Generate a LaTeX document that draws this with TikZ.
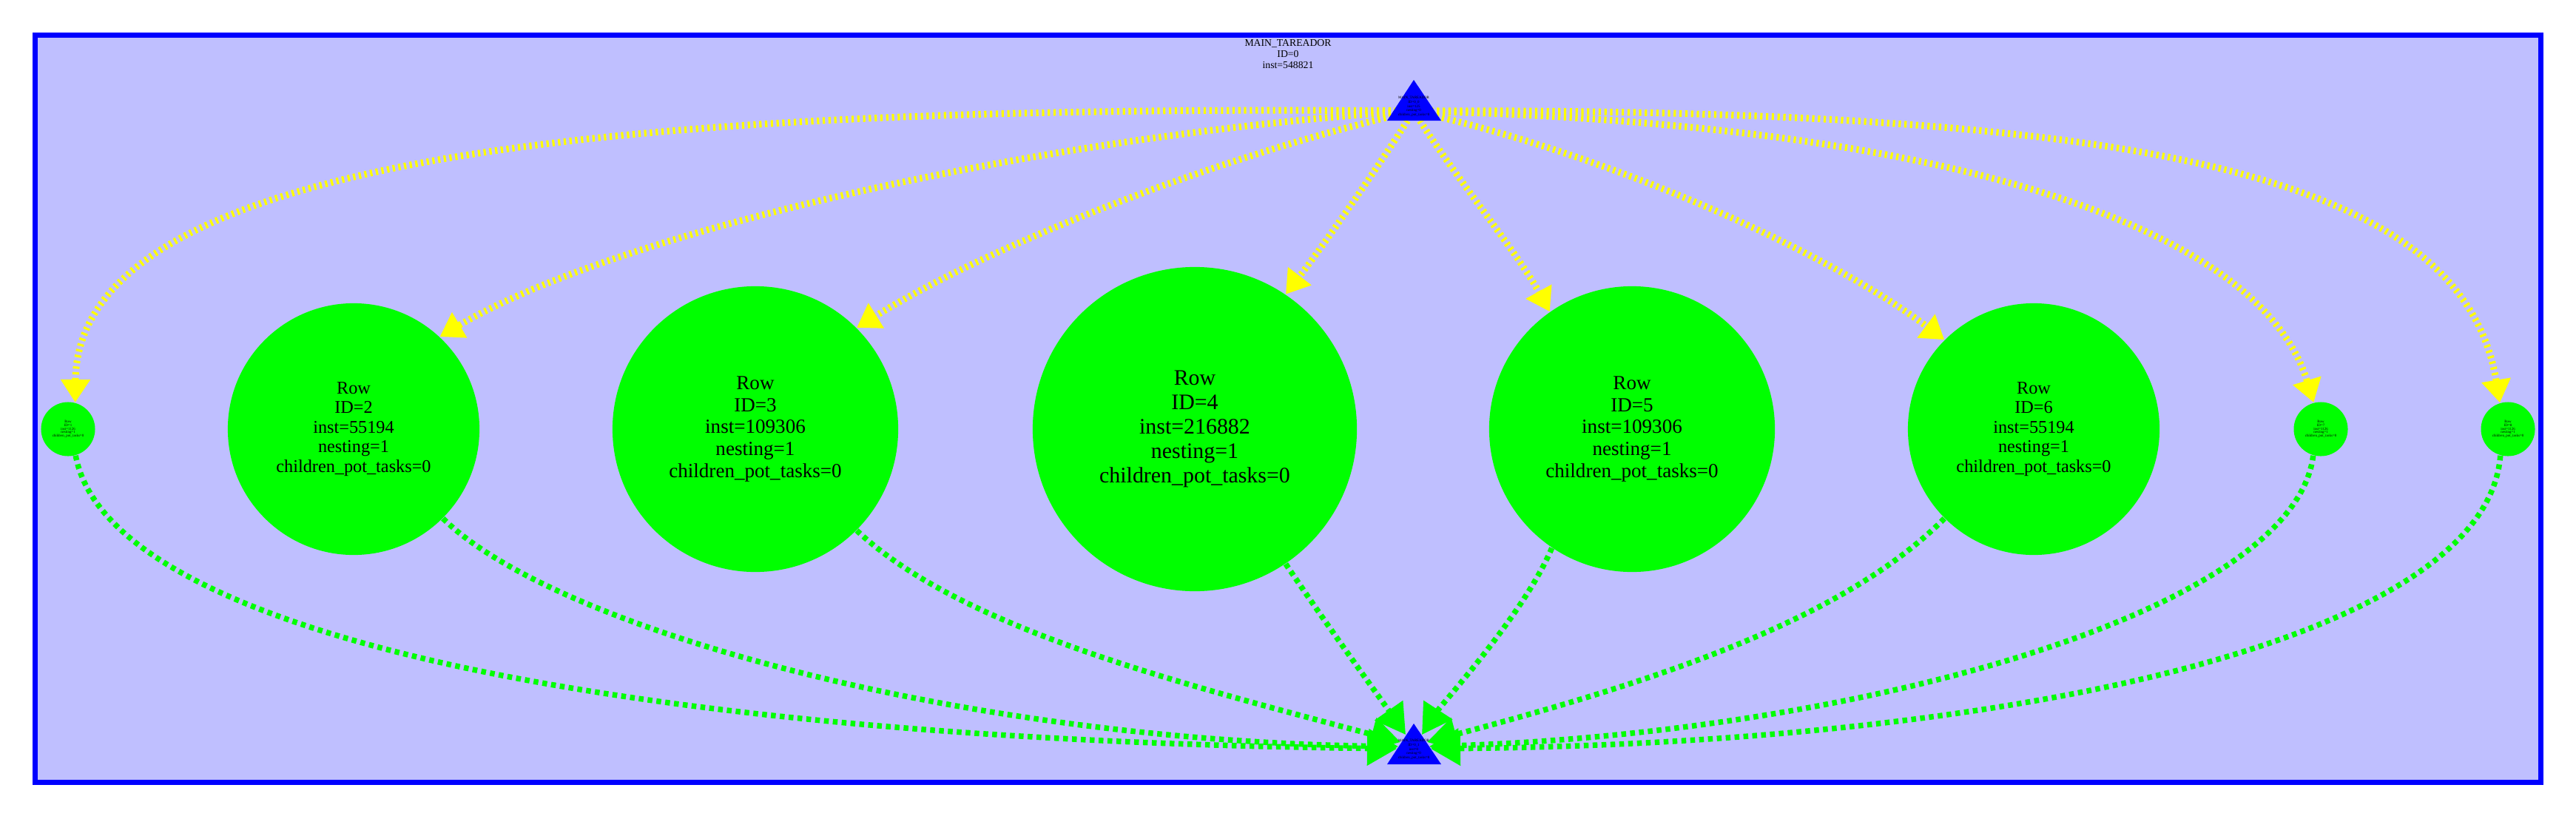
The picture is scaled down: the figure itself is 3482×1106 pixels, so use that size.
\documentclass[tikz,border=0pt]{standalone}
\usepackage{fontspec}
\setmainfont{Liberation Serif}
\usepackage{tikz}
\usetikzlibrary{arrows.meta}
\definecolor{clusterfill}{RGB}{191,191,255}
\definecolor{taskblue}{RGB}{0,0,255}
\definecolor{taskgreen}{RGB}{0,255,0}
\definecolor{depyellow}{RGB}{255,255,0}

\begin{document}
\begin{tikzpicture}[x=0.01cm,y=-0.01cm,
	rowtask/.style={circle,fill=taskgreen,inner sep=0pt,align=center},
	tinyrow/.style={rowtask,minimum size=0.73cm,font=\fontsize{1.4}{1.35}\selectfont},
	smallrow/.style={rowtask,minimum size=3.4cm,font=\fontsize{6.9}{7.5}\selectfont},
	midrow/.style={rowtask,minimum size=3.86cm,font=\fontsize{7.7}{8.4}\selectfont},
	bigrow/.style={rowtask,minimum size=4.38cm,font=\fontsize{8.5}{9.4}\selectfont},
	tritext/.style={inner sep=0pt,align=center,font=\fontsize{1.4}{1.65}\selectfont},
	yedge/.style={depyellow,line width=0.09cm,dash pattern=on 0.032cm off 0.046cm,
		-{Triangle[length=0.31cm,width=0.38cm]}},
	gedge/.style={taskgreen,line width=0.075cm,dash pattern=on 0.065cm off 0.055cm,
		-{Triangle[length=0.4cm,width=0.45cm]}}
	]
	\useasboundingbox (0,0) rectangle (3482,1106);
	%%%%%%%%%%%%%%% cluster
	\draw[taskblue,fill=clusterfill,line width=0.07cm] (47.5,47.5) rectangle (3434.5,1057.5);
	\node[align=center,inner sep=0pt,font=\fontsize{3.9}{4.3}\selectfont] (main) at (1741,73)
		{MAIN\_TAREADOR\\ID=0\\inst=548821};
	%%%%%%%%%%%%%%% tasks
	\node[tinyrow] (c1) at (92,580) {Row\\ID=1\\inst=1126\\nesting=1\\children\_pot\_tasks=0};
	\node[smallrow] (c2) at (478,580) {Row\\ID=2\\inst=55194\\nesting=1\\children\_pot\_tasks=0};
	\node[midrow] (c3) at (1021,580) {Row\\ID=3\\inst=109306\\nesting=1\\children\_pot\_tasks=0};
	\node[bigrow] (c4) at (1615,580) {Row\\ID=4\\inst=216882\\nesting=1\\children\_pot\_tasks=0};
	\node[midrow] (c5) at (2206,580) {Row\\ID=5\\inst=109306\\nesting=1\\children\_pot\_tasks=0};
	\node[smallrow] (c6) at (2749,580) {Row\\ID=6\\inst=55194\\nesting=1\\children\_pot\_tasks=0};
	\node[tinyrow] (c7) at (3137,580) {Row\\ID=7\\inst=1126\\nesting=1\\children\_pot\_tasks=0};
	\node[tinyrow] (c8) at (3390,580) {Row\\ID=8\\inst=1126\\nesting=1\\children\_pot\_tasks=0};
	%%%%%%%%%%%%%%% ends on the start and end triangles
	\coordinate (src) at (1911,150);
	\coordinate (b1) at (1888,1012);
	\coordinate (b2) at (1890,1009);
	\coordinate (b3) at (1893,1003);
	\coordinate (b4) at (1900,993);
	\coordinate (b5) at (1922,993);
	\coordinate (b6) at (1929,1003);
	\coordinate (b7) at (1932,1009);
	\coordinate (b8) at (1934,1012);
	%%%%%%%%%%%%%%% dependences
	\draw[yedge] (src) .. controls (800,140) and (105,215) .. (c1.75);
	\draw[yedge] (src) .. controls (1430,180) and (840,310) .. (c2.47);
	\draw[yedge] (src) .. controls (1650,210) and (1340,330) .. (c3.45);
	\draw[yedge] (src) .. controls (1860,230) and (1790,330) .. (c4.56);
	\draw[yedge] (src) .. controls (1960,230) and (2050,340) .. (c5.125);
	\draw[yedge] (src) .. controls (2180,210) and (2470,340) .. (c6.135);
	\draw[yedge] (src) .. controls (2580,165) and (3050,290) .. (c7.105);
	\draw[yedge] (src) .. controls (2950,145) and (3330,250) .. (c8.107);
	%
	\draw[gedge] (c1.-74) .. controls (150,870) and (900,1000) .. (b1);
	\draw[gedge] (c2.-45) .. controls (750,850) and (1300,1000) .. (b2);
	\draw[gedge] (c3.-45) .. controls (1300,850) and (1593,923) .. (b3);
	\draw[gedge] (c4.-56) .. controls (1790,840) and (1870,950) .. (b4);
	\draw[gedge] (c5.-124) .. controls (2060,830) and (1950,950) .. (b5);
	\draw[gedge] (c6.-135) .. controls (2490,840) and (2230,923) .. (b6);
	\draw[gedge] (c7.-106) .. controls (3100,830) and (2500,990) .. (b7);
	\draw[gedge] (c8.-106) .. controls (3360,870) and (2700,1005) .. (b8);
	%%%%%%%%%%%%%%% start and end of main
	\fill[taskblue] (1911,108) -- (1948,163) -- (1875,163) -- cycle;
	\node[tritext] (start) at (1911,144)
		{MAIN\_TAREADOR\\ID=0\_0\\inst=125\\nesting=0\\children\_pot\_tasks=0};
	\fill[taskblue] (1911,978) -- (1948,1033) -- (1875,1033) -- cycle;
	\node[tritext] (end) at (1911,1013)
		{MAIN\_TAREADOR\\ID=0\_1\\inst=0\\nesting=0\\children\_pot\_tasks=0};
\end{tikzpicture}
\end{document}
